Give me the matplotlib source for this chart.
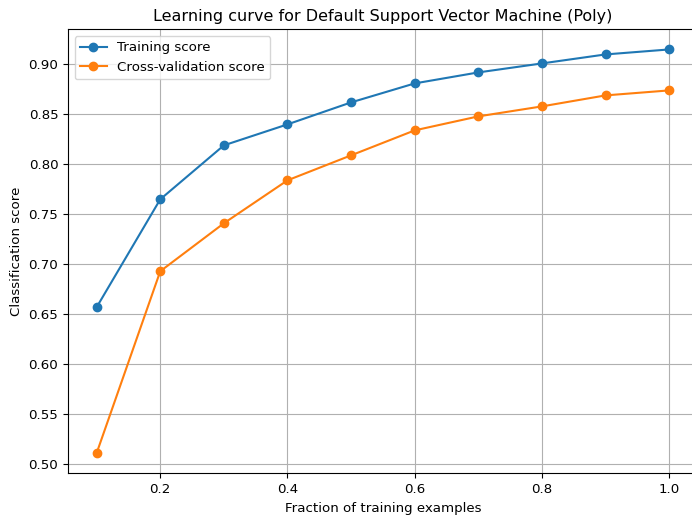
import matplotlib
matplotlib.use("Agg")
import matplotlib.pyplot as plt

plt.rcParams["font.size"] = 9.6

fractions = [0.1, 0.2, 0.3, 0.4, 0.5, 0.6, 0.7, 0.8, 0.9, 1.0]
train_scores = [0.657, 0.765, 0.819, 0.840, 0.862, 0.881, 0.892, 0.901, 0.910, 0.915]
cv_scores = [0.511, 0.693, 0.741, 0.784, 0.809, 0.834, 0.848, 0.858, 0.869, 0.874]

fig = plt.figure(figsize=(6.92, 5.16), dpi=100)
# axes run a little past the right edge of the canvas
ax = fig.add_axes([0.0983, 0.0828, 0.910, 0.8605])
ax.plot(fractions, train_scores, "o-", label="Training score")
ax.plot(fractions, cv_scores, "o-", label="Cross-validation score")
ax.set_title("Learning curve for Default Support Vector Machine (Poly)")
ax.set_xlabel("Fraction of training examples")
ax.set_ylabel("Classification score")
ax.grid(True)
ax.legend(loc="upper left")
fig.savefig("out.png")
